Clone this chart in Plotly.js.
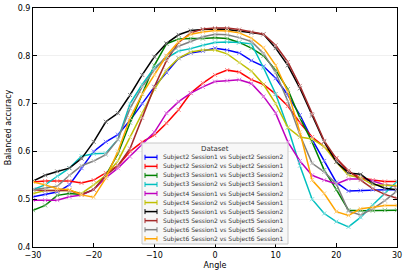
<!DOCTYPE html>
<html>
<head>
<meta charset="utf-8">
<script src="https://cdn.plot.ly/plotly-3.0.1.min.js"></script>
<style>html,body{margin:0;padding:0;background:#fff;}#chart{width:407px;height:274px;}</style>
</head>
<body>
<div id="chart"></div>
<script>
const angles = [-30,-28,-26,-24,-22,-20,-18,-16,-14,-12,-10,-8,-6,-4,-2,0,2,4,6,8,10,12,14,16,18,20,22,24,26,28,30];

const seriesNames = [
  "Subject2 Session1 vs Subject2 Session2",
  "Subject2 Session2 vs Subject2 Session1",
  "Subject3 Session1 vs Subject3 Session2",
  "Subject3 Session2 vs Subject3 Session1",
  "Subject4 Session1 vs Subject4 Session2",
  "Subject4 Session2 vs Subject4 Session1",
  "Subject5 Session1 vs Subject5 Session2",
  "Subject5 Session2 vs Subject5 Session1",
  "Subject6 Session1 vs Subject6 Session2",
  "Subject6 Session2 vs Subject6 Session1"
];

const s2_12 = [0.505,0.510,0.515,0.530,0.565,0.600,0.620,0.635,0.665,0.700,0.735,0.765,0.795,0.806,0.810,0.816,0.812,0.806,0.790,0.778,0.753,0.718,0.676,0.625,0.580,0.535,0.517,0.518,0.520,0.520,0.520];
const s2_21 = [0.536,0.538,0.538,0.538,0.534,0.540,0.555,0.570,0.600,0.620,0.634,0.659,0.687,0.722,0.743,0.760,0.770,0.766,0.750,0.740,0.720,0.695,0.660,0.630,0.610,0.586,0.557,0.545,0.540,0.537,0.537];
const s3_12 = [0.477,0.487,0.508,0.512,0.510,0.520,0.550,0.595,0.660,0.720,0.780,0.825,0.835,0.836,0.836,0.838,0.836,0.828,0.816,0.800,0.770,0.730,0.670,0.620,0.561,0.520,0.477,0.476,0.476,0.477,0.477];
const s3_21 = [0.520,0.530,0.548,0.565,0.590,0.595,0.596,0.625,0.700,0.740,0.775,0.795,0.810,0.815,0.822,0.828,0.829,0.828,0.825,0.775,0.720,0.650,0.570,0.500,0.470,0.453,0.442,0.462,0.488,0.512,0.537];
const s4_12 = [0.498,0.498,0.498,0.505,0.509,0.520,0.545,0.565,0.589,0.615,0.640,0.680,0.704,0.722,0.735,0.746,0.748,0.750,0.742,0.715,0.680,0.620,0.580,0.550,0.540,0.532,0.542,0.542,0.538,0.530,0.527];
const s4_21 = [0.512,0.518,0.518,0.518,0.512,0.530,0.550,0.580,0.630,0.680,0.730,0.770,0.795,0.808,0.812,0.812,0.804,0.786,0.768,0.740,0.700,0.650,0.630,0.626,0.610,0.578,0.550,0.545,0.530,0.529,0.528];
const s5_12 = [0.538,0.550,0.558,0.565,0.585,0.620,0.662,0.680,0.718,0.760,0.798,0.826,0.844,0.853,0.855,0.856,0.855,0.852,0.848,0.845,0.816,0.780,0.732,0.675,0.620,0.578,0.555,0.552,0.533,0.523,0.520];
const s5_21 = [0.520,0.518,0.518,0.518,0.510,0.520,0.550,0.570,0.606,0.670,0.735,0.790,0.828,0.848,0.856,0.858,0.858,0.855,0.850,0.845,0.822,0.787,0.737,0.678,0.622,0.585,0.560,0.540,0.522,0.510,0.502];
const s6_12 = [0.520,0.523,0.527,0.550,0.570,0.580,0.593,0.625,0.690,0.735,0.770,0.800,0.820,0.830,0.840,0.845,0.844,0.838,0.830,0.805,0.765,0.705,0.635,0.575,0.557,0.532,0.475,0.467,0.480,0.497,0.517];
const s6_21 = [0.536,0.530,0.522,0.520,0.509,0.504,0.544,0.600,0.670,0.720,0.760,0.800,0.830,0.845,0.850,0.853,0.852,0.848,0.837,0.817,0.780,0.725,0.640,0.540,0.512,0.474,0.466,0.480,0.483,0.487,0.487];

const seriesValues = [s2_12,s2_21,s3_12,s3_21,s4_12,s4_21,s5_12,s5_21,s6_12,s6_21];
const colors = ["#0000ff","#ff0000","#008000","#00bfbf","#bf00bf","#bfbf00","#000000","#a52a2a","#808080","#ffa500"];
const markerColors = ["#8080ff","#ff8080","#80c080","#80dfdf","#df80df","#dfdf80","#808080","#d29595","#c0c0c0","#ffd280"];
const legendTitle = "Dataset";

const traces = seriesNames.map((n,i)=>({
  x: angles, y: seriesValues[i], name: n, type: 'scatter', mode: 'lines+markers',
  line: {color: colors[i], width: 1.5},
  marker: {symbol: 'x-thin', size: 4, color: markerColors[i], line: {width: 1, color: markerColors[i]}}
}));

// Custom legend (matplotlib-like), positioned in paper coordinates
const L = 33, R = 397, T = 8, B = 247;
const px = v => (v - L) / (R - L);
const py = v => (B - v) / (B - T);
const shapes = [];
const annotations = [];
shapes.push({type:'rect', xref:'paper', yref:'paper', x0:px(142), x1:px(288), y0:py(143), y1:py(244),
  fillcolor:'rgba(247,247,247,0.95)', line:{color:'#c8c8c8', width:1}, layer:'above'});
annotations.push({xref:'paper', yref:'paper', x:px(215), y:py(148.5), text:legendTitle, showarrow:false,
  xanchor:'center', yanchor:'middle', font:{family:'DejaVu Sans', size:7, color:'#333'}});
seriesNames.forEach((n,i)=>{
  const yy = 157.3 + i*9.05;
  const c = colors[i];
  shapes.push({type:'line', xref:'paper', yref:'paper', x0:px(145), x1:px(157), y0:py(yy), y1:py(yy), line:{color:c, width:1.5}, layer:'above'});
  shapes.push({type:'line', xref:'paper', yref:'paper', x0:px(145), x1:px(145), y0:py(yy-2.5), y1:py(yy+2.5), line:{color:c, width:1}, layer:'above'});
  shapes.push({type:'line', xref:'paper', yref:'paper', x0:px(157), x1:px(157), y0:py(yy-2.5), y1:py(yy+2.5), line:{color:c, width:1}, layer:'above'});
  annotations.push({xref:'paper', yref:'paper', x:px(160.5), y:py(yy), text:n, showarrow:false,
    xanchor:'left', yanchor:'middle', font:{family:'DejaVu Sans', size:6, color:'#333'}});
});

const axisCommon = {
  showline: true, linecolor: '#000', linewidth: 1, mirror: 'allticks',
  ticks: 'inside', ticklen: 4, tickcolor: '#000', tickwidth: 1,
  zeroline: false, tickfont: {family: 'DejaVu Sans', size: 8, color: '#000'}
};

const layout = {
  width: 407, height: 274,
  margin: {l: 33, r: 10, t: 8, b: 27},
  paper_bgcolor: '#fff', plot_bgcolor: '#fff',
  font: {family: 'DejaVu Sans', color: '#000'},
  showlegend: false,
  shapes: shapes,
  annotations: annotations,
  xaxis: Object.assign({}, axisCommon, {
    range: [-30, 30], showgrid: false,
    tickvals: [-30,-20,-10,0,10,20,30], ticktext: ['\u221230','\u221220','\u221210','0','10','20','30'],
    title: {text: 'Angle', font: {family: 'DejaVu Sans', size: 8}, standoff: 3}
  }),
  yaxis: Object.assign({}, axisCommon, {
    range: [0.4, 0.9], dtick: 0.1, tick0: 0.4, showgrid: true, gridcolor: '#f0f0f0', gridwidth: 1,
    tickformat: '.1f',
    title: {text: 'Balanced accuracy', font: {family: 'DejaVu Sans', size: 8}, standoff: 4}
  })
};

Plotly.newPlot('chart', traces, layout, {staticPlot: true, displayModeBar: false});
</script>
</body>
</html>
